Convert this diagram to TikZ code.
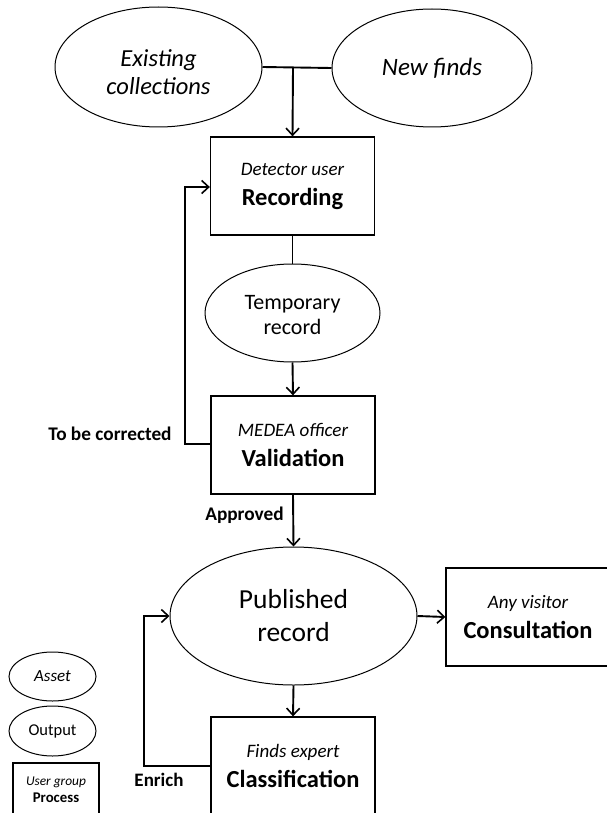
\documentclass[tikz,border=0pt]{standalone}
\usepackage{fontspec}
\setmainfont{Carlito}
\usetikzlibrary{shapes.geometric,arrows.meta}
\tikzset{
  asset/.style={ellipse, draw, line width=1pt, inner sep=0pt, align=center},
  procbox/.style={rectangle, draw, line width=1.3pt, inner sep=0pt, align=center,
    minimum width=164pt, minimum height=98pt, font=\fontsize{24.5}{30}\selectfont\bfseries},
  conn/.style={line width=1.9pt, -{Straight Barb[length=7pt,width=13pt,line width=1.6pt]}},
  plain/.style={line width=1.9pt},
  lbl/.style={inner sep=0pt, font=\fontsize{19.3}{22}\selectfont\bfseries},
}
\newcommand{\grp}[1]{{\fontsize{19}{30}\selectfont\mdseries\itshape #1}}
\begin{document}
\begin{tikzpicture}[x=1pt,y=-1pt]
\useasboundingbox (0,0) rectangle (607,813);
% top assets
\node[asset, minimum width=207pt, minimum height=120pt, font=\fontsize{24.5}{28}\selectfont\itshape]
  (ec) at (158.5,67) {\rule{0pt}{27pt}Existing\\collections};
\node[asset, minimum width=200pt, minimum height=118pt, font=\fontsize{25}{28}\selectfont\itshape]
  (nf) at (432,68) {New finds};
% process boxes
\node[procbox] (rec) at (292.5,186) {\grp{Detector user}\\Recording};
\node[asset, minimum width=175pt, minimum height=98pt, font=\fontsize{22}{25}\selectfont]
  (tmp) at (292.5,313) {\rule{0pt}{19pt}Temporary\\record};
\node[procbox] (val) at (293,445) {\grp{MEDEA officer}\\Validation};
\node[asset, minimum width=247pt, minimum height=138pt, font=\fontsize{27.5}{33}\selectfont]
  (pub) at (293.5,616) {Published\\record};
\node[procbox] (con) at (528,617) {\grp{Any visitor}\\Consultation};
\node[procbox] (cla) at (293,766) {\grp{Finds expert}\\Classification};
% legend
\node[asset, minimum width=87pt, minimum height=49pt, font=\fontsize{17}{20}\selectfont\itshape]
  (lga) at (52.5,676.5) {Asset};
\node[asset, minimum width=87pt, minimum height=50pt, font=\fontsize{16.5}{20}\selectfont]
  (lgo) at (52.5,731) {Output};
\node[rectangle, draw, line width=1.3pt, inner sep=0pt, minimum width=86pt, minimum height=54pt, align=center,
  font=\fontsize{14.8}{17}\selectfont\bfseries]
  (lgp) at (56,790) {{\fontsize{13.4}{17}\selectfont\mdseries\itshape User group}\\Process};
% labels
\node[lbl] (lcor) at (110,434) {To be corrected};
\node[lbl] (lapp) at (244.5,515) {Approved};
\node[lbl, font=\fontsize{19}{22}\selectfont\bfseries] (lenr) at (159,780) {Enrich};
% connectors
\coordinate (j) at (293,68);
\draw[plain] (ec.east) -- (nf.west);
\draw[conn] (j) -- (rec.north);
\draw[plain] (rec.south) -- (tmp.north);
\draw[conn] (tmp.south) -- (val.north);
\draw[conn] (val.west |- 0,444) -- (185,444) -- (185,187) -- (rec.west |- 0,187);
\draw[conn] (val.south) -- (pub.north);
\draw[conn] (pub.east) -- (con.west);
\draw[conn] (pub.south) -- (cla.north);
\draw[conn] (cla.west) -- (144,766) -- (144,616) -- (pub.west);
\end{tikzpicture}
\end{document}
